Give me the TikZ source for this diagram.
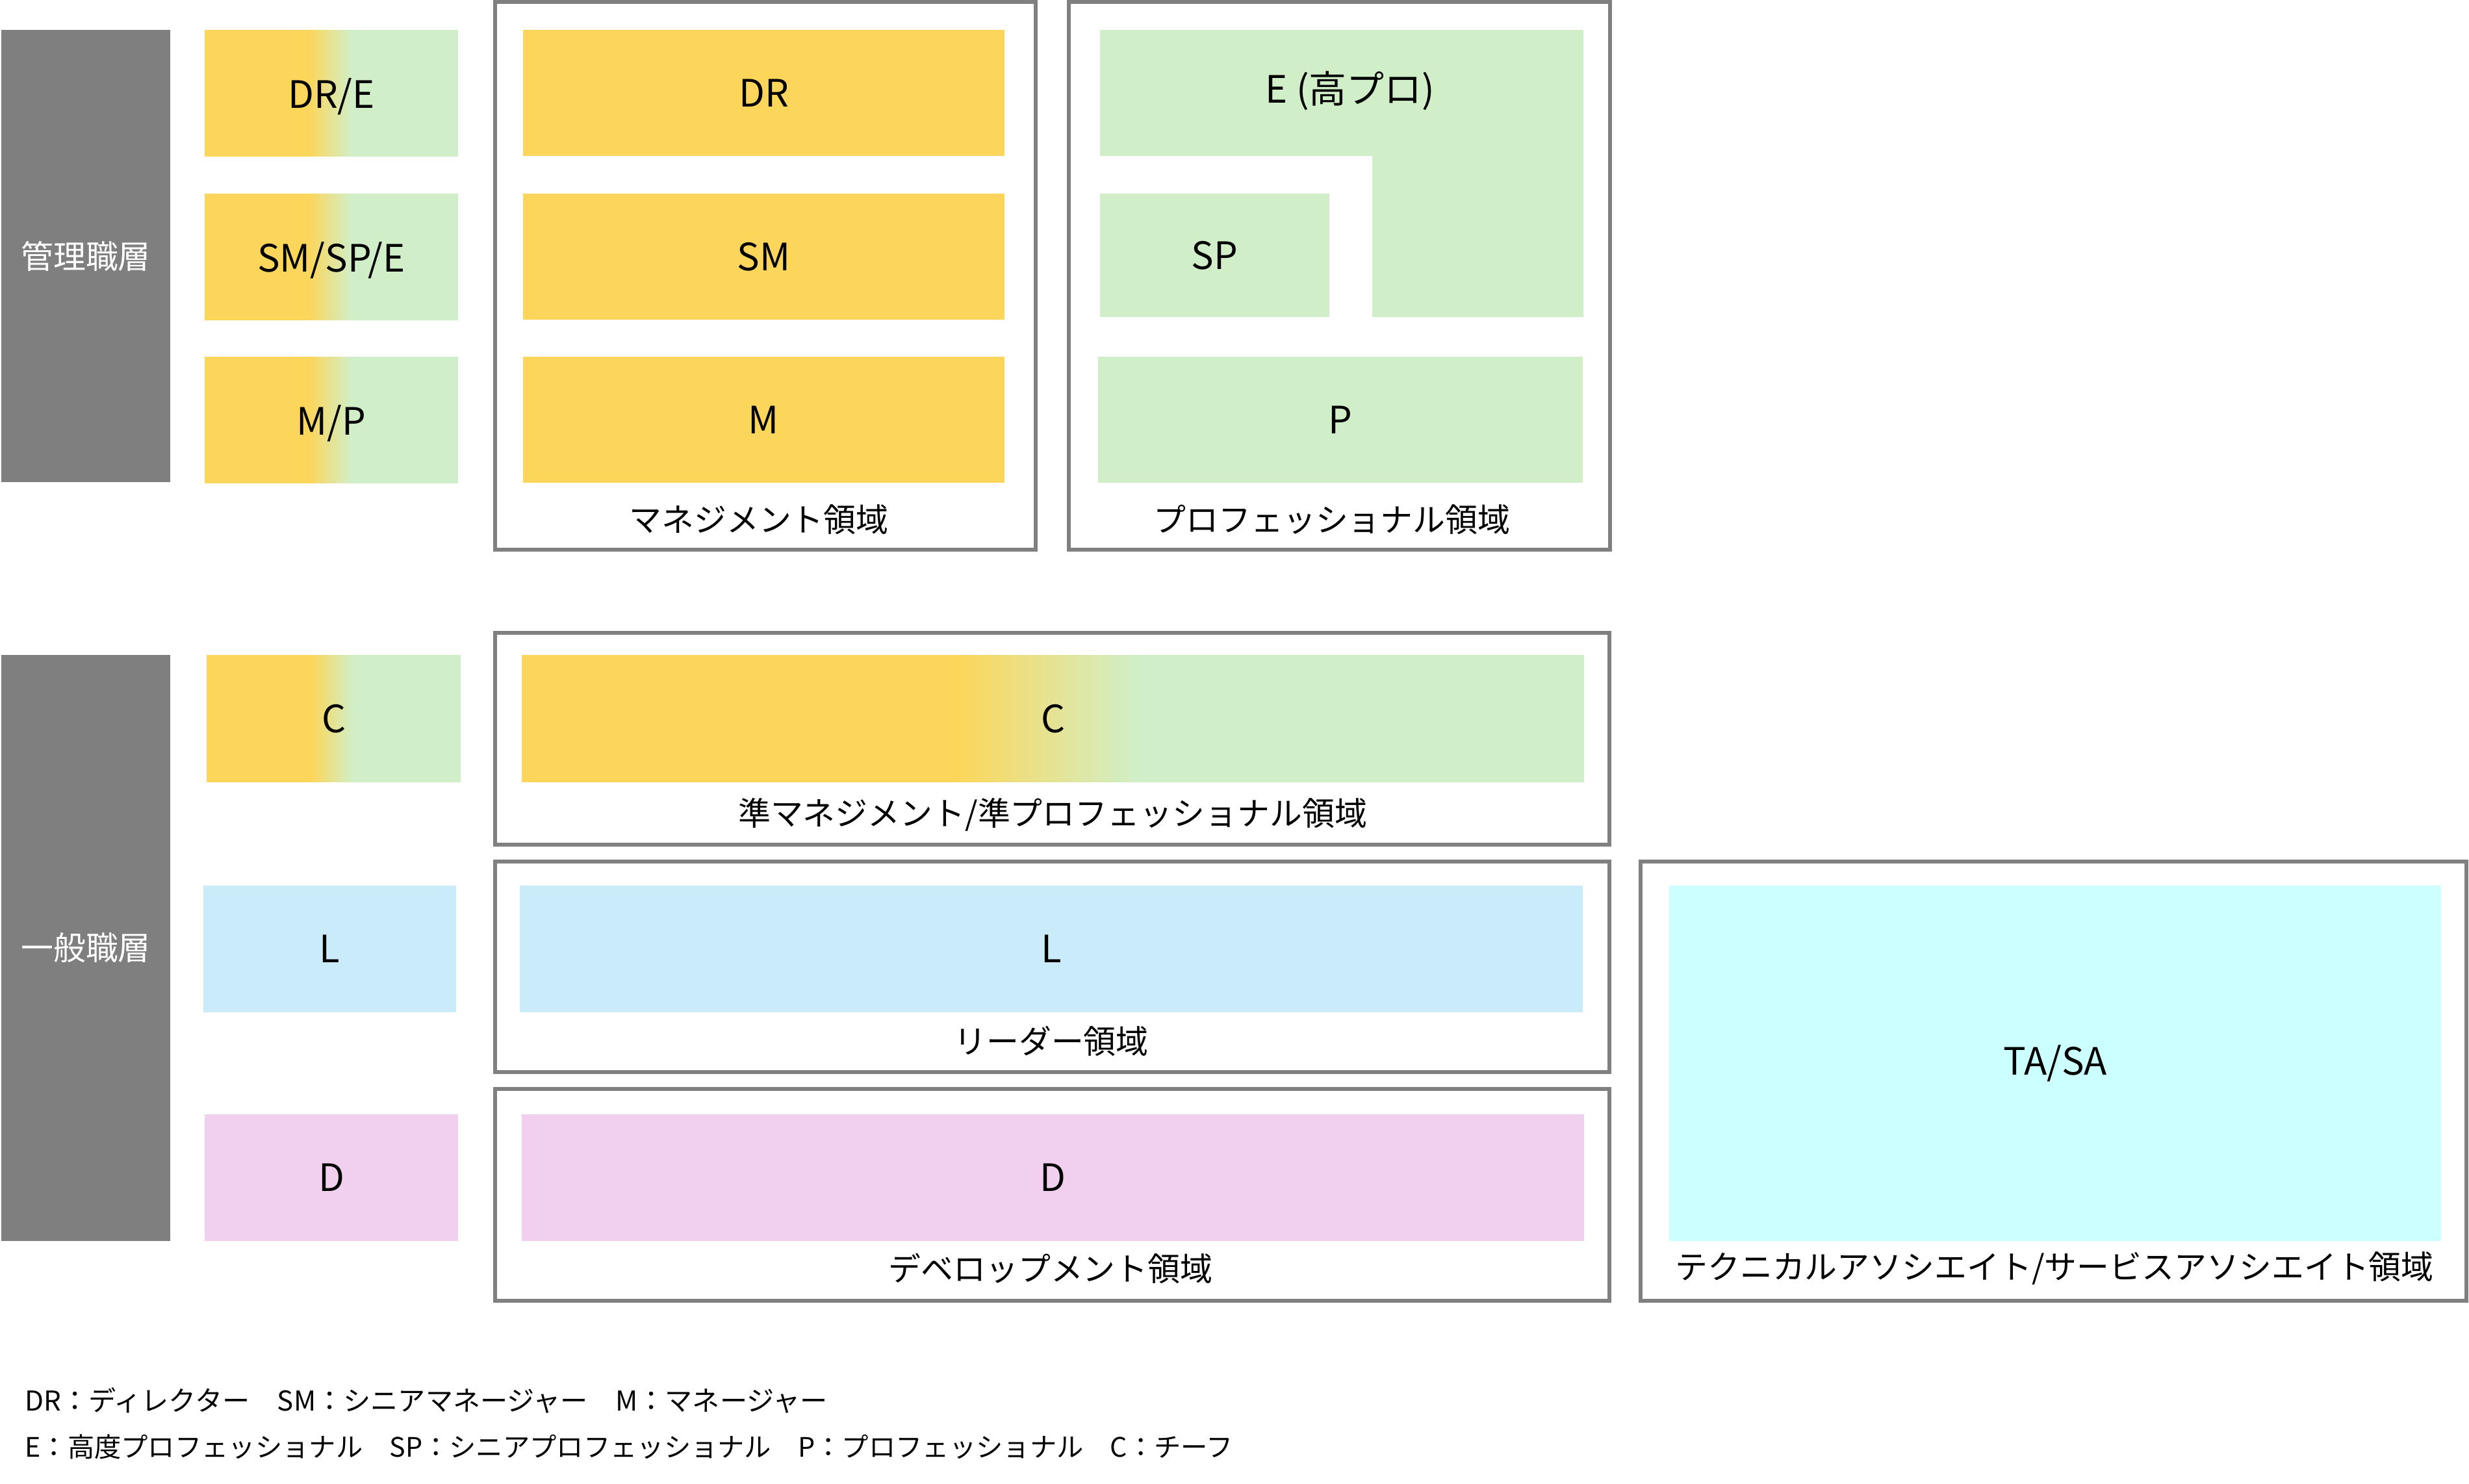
\documentclass[tikz,border=0pt]{standalone}
\usepackage{fontspec}
\setmainfont{Noto Sans CJK JP}
\usetikzlibrary{positioning}

\definecolor{mgYellow}{HTML}{FCD65A}
\definecolor{proGreen}{HTML}{D0EFC8}
\definecolor{leadBlue}{HTML}{CAECFA}
\definecolor{devPink}{HTML}{F1CFEE}
\definecolor{assocCyan}{HTML}{CCFFFF}
\definecolor{barGray}{HTML}{7F7F7F}
\definecolor{frameGray}{HTML}{808080}

\pgfdeclarehorizontalshading{ygrad}{100bp}{color(0bp)=(mgYellow); color(45.5bp)=(mgYellow); color(54bp)=(proGreen); color(100bp)=(proGreen)}

\newcommand{\tilefont}{\fontsize{16.5pt}{18pt}\selectfont}
\newcommand{\areafont}{\fontsize{14.2pt}{16pt}\selectfont}
\newcommand{\notefont}{\fontsize{12pt}{14pt}\selectfont}

\begin{document}
\begin{tikzpicture}[x=1cm, y=-1cm,
	tile/.style={inner sep=0pt, outer sep=0pt, anchor=north west, font=\tilefont},
	gradtile/.style={tile, shade, shading=ygrad, text depth=0pt},
	layerbar/.style={tile, fill=barGray, text=white, font=\areafont},
	areaframe/.style={draw=frameGray, line width=1.7pt},
	arealabel/.style={font=\areafont},
	legendline/.style={anchor=west, font=\notefont}]
	\useasboundingbox (0,0) rectangle (38,22.83);

	% layers
	\node[layerbar, minimum width=2.60cm, minimum height=6.96cm] (kanri)  at (0.02,0.46)  {管理職層};
	\node[layerbar, minimum width=2.60cm, minimum height=9.02cm] (ippan)  at (0.02,10.08) {一般職層};

	% grades
	\node[gradtile, minimum width=3.90cm, minimum height=1.94cm]            (dre)   at (3.15,0.46)  {DR/E};
	\node[gradtile, minimum width=3.90cm, minimum height=1.94cm]            (smspe) at (3.15,2.98)  {SM/SP/E};
	\node[gradtile, minimum width=3.90cm, minimum height=1.94cm]            (mp)    at (3.15,5.49)  {M/P};
	\node[gradtile, minimum width=3.91cm, minimum height=1.95cm]            (cg)    at (3.18,10.08) {C};
	\node[tile, fill=leadBlue, minimum width=3.89cm, minimum height=1.95cm] (lg)    at (3.13,13.63) {L};
	\node[tile, fill=devPink, minimum width=3.90cm, minimum height=1.95cm]  (dg)    at (3.15,17.15) {D};

	% management
	\draw[areaframe] (7.62,0.03) rectangle (15.94,8.46);
	\node[tile, fill=mgYellow, minimum width=7.41cm, minimum height=1.94cm] (dr) at (8.05,0.46) {DR};
	\node[tile, fill=mgYellow, minimum width=7.41cm, minimum height=1.94cm] (sm) at (8.05,2.98) {SM};
	\node[tile, fill=mgYellow, minimum width=7.41cm, minimum height=1.94cm] (m)  at (8.05,5.49) {M};
	\node[arealabel] (mgarea) at (11.68,8.00) {マネジメント領域};

	% professional
	\draw[areaframe] (16.45,0.03) rectangle (24.78,8.46);
	\fill[proGreen] (16.93,0.46) -- (24.37,0.46) -- (24.37,4.88) -- (21.12,4.88) -- (21.12,2.40) -- (16.93,2.40) -- cycle;
	\node[font=\tilefont] (e) at (20.78,1.40) {E (高プロ)};
	\node[tile, fill=proGreen, minimum width=3.53cm, minimum height=1.90cm] (sp) at (16.93,2.98) {SP};
	\node[tile, fill=proGreen, minimum width=7.46cm, minimum height=1.94cm] (p)  at (16.90,5.49) {P};
	\node[arealabel] (proarea) at (20.50,8.00) {プロフェッショナル領域};

	% general
	\draw[areaframe] (7.62,9.74) rectangle (24.77,13.00);
	\node[gradtile, minimum width=16.35cm, minimum height=1.95cm] (c) at (8.03,10.08) {C};
	\node[arealabel] (carea) at (16.20,12.54) {準マネジメント/準プロフェッショナル領域};

	\draw[areaframe] (7.62,13.26) rectangle (24.77,16.50);
	\node[tile, fill=leadBlue, minimum width=16.36cm, minimum height=1.95cm] (l) at (8.00,13.63) {L};
	\node[arealabel] (larea) at (16.18,16.02) {リーダー領域};

	\draw[areaframe] (7.62,16.76) rectangle (24.77,20.02);
	\node[tile, fill=devPink, minimum width=16.35cm, minimum height=1.95cm] (d) at (8.03,17.15) {D};
	\node[arealabel] (darea) at (16.17,19.52) {デベロップメント領域};

	\draw[areaframe] (25.25,13.26) rectangle (37.96,20.02);
	\node[tile, fill=assocCyan, minimum width=11.88cm, minimum height=5.47cm] (tasa) at (25.69,13.63) {TA/SA};
	\node[arealabel] (tasaarea) at (31.62,19.52) {テクニカルアソシエイト/サービスアソシエイト領域};

	% legend
	\node[legendline] (note1) at (0.26,21.55) {DR：ディレクター　SM：シニアマネージャー　M：マネージャー};
	\node[legendline, font=\fontsize{11.75pt}{14pt}\selectfont] (note2) at (0.26,22.27) {E：高度プロフェッショナル　SP：シニアプロフェッショナル　P：プロフェッショナル　C：チーフ};
\end{tikzpicture}
\end{document}
